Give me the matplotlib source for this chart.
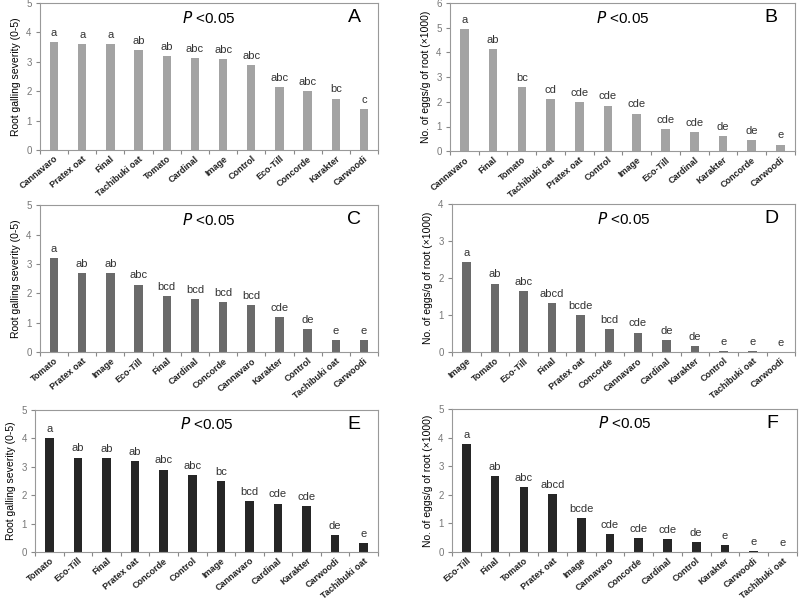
import numpy as np
import matplotlib
matplotlib.use('Agg')
import matplotlib.pyplot as plt
from matplotlib.ticker import FixedLocator

# パネルごとのデータ
cats_a = ['Cannavaro', 'Pratex oat', 'Final', 'Tachibuki oat', 'Tomato', 'Cardinal',
          'Image', 'Control', 'Eco-Till', 'Concorde', 'Karakter', 'Carwoodi']
vals_a = [3.67, 3.6, 3.6, 3.4, 3.2, 3.13, 3.1, 2.9, 2.15, 2.0, 1.75, 1.4]
lets_a = ['a', 'a', 'a', 'ab', 'ab', 'abc', 'abc', 'abc', 'abc', 'abc', 'bc', 'c']

cats_b = ['Cannavaro', 'Final', 'Tomato', 'Tachibuki oat', 'Pratex oat', 'Control',
          'Image', 'Eco-Till', 'Cardinal', 'Karakter', 'Concorde', 'Carwoodi']
vals_b = [4.95, 4.15, 2.6, 2.12, 2.0, 1.85, 1.52, 0.9, 0.76, 0.6, 0.45, 0.27]
lets_b = ['a', 'ab', 'bc', 'cd', 'cde', 'cde', 'cde', 'cde', 'cde', 'de', 'de', 'e']

cats_c = ['Tomato', 'Pratex oat', 'Image', 'Eco-Till', 'Final', 'Cardinal',
          'Concorde', 'Cannavaro', 'Karakter', 'Control', 'Tachibuki oat', 'Carwoodi']
vals_c = [3.2, 2.7, 2.7, 2.3, 1.9, 1.8, 1.7, 1.6, 1.2, 0.8, 0.4, 0.4]
lets_c = ['a', 'ab', 'ab', 'abc', 'bcd', 'bcd', 'bcd', 'bcd', 'cde', 'de', 'e', 'e']

cats_d = ['Image', 'Tomato', 'Eco-Till', 'Final', 'Pratex oat', 'Concorde',
          'Cannavaro', 'Cardinal', 'Karakter', 'Control', 'Tachibuki oat', 'Carwoodi']
vals_d = [2.43, 1.85, 1.65, 1.32, 1.0, 0.62, 0.53, 0.33, 0.17, 0.03, 0.03, 0.01]
lets_d = ['a', 'ab', 'abc', 'abcd', 'bcde', 'bcd', 'cde', 'de', 'de', 'e', 'e', 'e']

cats_e = ['Tomato', 'Eco-Till', 'Final', 'Pratex oat', 'Concorde', 'Control',
          'Image', 'Cannavaro', 'Cardinal', 'Karakter', 'Carwoodi', 'Tachibuki oat']
vals_e = [4.0, 3.32, 3.3, 3.2, 2.9, 2.7, 2.5, 1.8, 1.7, 1.6, 0.6, 0.3]
lets_e = ['a', 'ab', 'ab', 'ab', 'abc', 'abc', 'bc', 'bcd', 'cde', 'cde', 'de', 'e']

cats_f = ['Eco-Till', 'Final', 'Tomato', 'Pratex oat', 'Image', 'Cannavaro',
          'Concorde', 'Cardinal', 'Control', 'Karakter', 'Carwoodi', 'Tachibuki oat']
vals_f = [3.78, 2.67, 2.27, 2.03, 1.18, 0.62, 0.5, 0.44, 0.35, 0.23, 0.02, 0.0]
lets_f = ['a', 'ab', 'abc', 'abcd', 'bcde', 'cde', 'cde', 'cde', 'de', 'e', 'e', 'e']

ylab_root = 'Root galling severity (0-5)'
ylab_eggs = 'No. of eggs/g of root (\u00d71000)'

panels = [
    ('A', cats_a, vals_a, lets_a, 5, ylab_root, '#a3a3a3', [0.05, 0.75, 0.4225, 0.245]),
    ('B', cats_b, vals_b, lets_b, 6, ylab_eggs, '#a3a3a3', [0.5625, 0.748, 0.431, 0.247]),
    ('C', cats_c, vals_c, lets_c, 5, ylab_root, '#6a6a6a', [0.05, 0.413, 0.4225, 0.245]),
    ('D', cats_d, vals_d, lets_d, 4, ylab_eggs, '#6a6a6a', [0.565, 0.413, 0.429, 0.247]),
    ('E', cats_e, vals_e, lets_e, 5, ylab_root, '#262626', [0.044, 0.08, 0.4285, 0.237]),
    ('F', cats_f, vals_f, lets_f, 5, ylab_eggs, '#262626', [0.565, 0.08, 0.431, 0.238]),
]

plt.rcParams['font.family'] = ['Liberation Sans', 'DejaVu Sans']

fig = plt.figure(figsize=(8, 6), dpi=100)

for name, cats, vals, lets, ymax, ylab, col, rect in panels:
    ax = fig.add_axes(rect)
    x = np.arange(len(cats))
    ax.bar(x, vals, width=0.3, color=col)
    for xi, v, t in zip(x, vals, lets):
        ax.annotate(t, (xi, v), xytext=(0, 3), textcoords='offset points',
                    ha='center', va='bottom', fontsize=8, color='#333333')
    ax.set_xlim(-0.5, len(cats) - 0.5)
    ax.set_ylim(0, ymax)
    ax.set_yticks(range(0, ymax + 1))
    # 目盛りはカテゴリの境目に
    ax.xaxis.set_major_locator(FixedLocator(np.arange(-0.5, len(cats), 1.0)))
    ax.xaxis.set_minor_locator(FixedLocator(x))
    ax.set_xticklabels([])
    ax.set_xticklabels(cats, minor=True, rotation=40, ha='right',
                       rotation_mode='anchor', fontsize=6.5, fontweight='bold',
                       color='#222222')
    ax.tick_params(axis='x', which='minor', length=0, pad=3)
    ax.tick_params(axis='x', which='major', length=3, color='#888888')
    ax.tick_params(axis='y', labelsize=7, labelcolor='#777777', length=3,
                   color='#888888', pad=3)
    for s in ax.spines.values():
        s.set_color('#999999')
        s.set_linewidth(0.8)
    ax.set_ylabel(ylab, fontsize=7.5, labelpad=4)
    ax.text(0.5, 0.9, '$P$ <0.05', transform=ax.transAxes, ha='center', va='center',
            fontsize=11)
    ax.text(0.93, 0.9, name, transform=ax.transAxes, ha='center', va='center',
            fontsize=14)

fig.savefig('out.png', dpi=100)
